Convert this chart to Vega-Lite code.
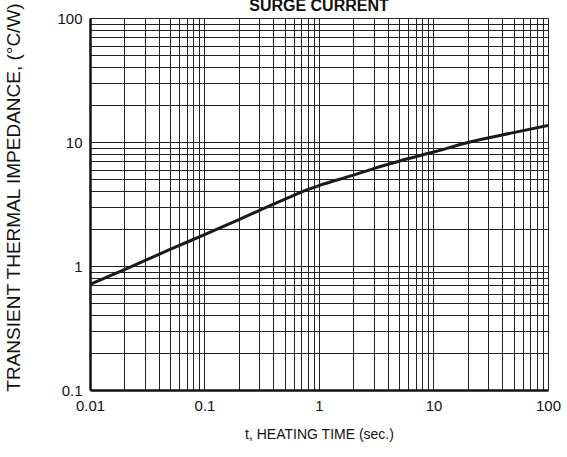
{
  "$schema": "https://vega.github.io/schema/vega-lite/v6.json",
  "autosize": {"type": "none"},
  "padding": {"left": 90, "top": 18, "right": 19, "bottom": 67},
  "width": 458,
  "height": 372,
  "background": "white",
  "config": {
    "font": "Liberation Sans",
    "view": {"stroke": null}
  },
  "title": {
    "text": "SURGE CURRENT",
    "fontSize": 16,
    "fontWeight": "bold",
    "color": "#111",
    "anchor": "middle",
    "baseline": "alphabetic",
    "offset": 0,
    "dy": 25
  },
  "data": {
    "values": [
      {"t": 0.01, "z": 0.71},
      {"t": 0.02, "z": 0.935},
      {"t": 0.05, "z": 1.36},
      {"t": 0.1, "z": 1.79},
      {"t": 0.2, "z": 2.37},
      {"t": 0.3, "z": 2.8},
      {"t": 0.5, "z": 3.45},
      {"t": 0.7, "z": 3.95},
      {"t": 1, "z": 4.45},
      {"t": 2, "z": 5.4},
      {"t": 3, "z": 6.1},
      {"t": 5, "z": 7.0},
      {"t": 10, "z": 8.3},
      {"t": 20, "z": 9.9},
      {"t": 50, "z": 11.9},
      {"t": 100, "z": 13.6}
    ]
  },
  "mark": {"type": "line", "interpolate": "monotone", "color": "#1a1a1a", "strokeWidth": 3, "clip": true},
  "encoding": {
    "x": {
      "field": "t",
      "type": "quantitative",
      "scale": {"type": "log", "domain": [0.01, 100], "nice": false},
      "axis": {
        "title": "t, HEATING TIME (sec.)",
        "titleFontSize": 14,
        "titleFontWeight": "normal",
        "titleColor": "#111",
        "titlePadding": 14,
        "values": [0.01,0.02,0.03,0.04,0.05,0.06,0.07,0.08,0.09,0.1,0.2,0.3,0.4,0.5,0.6,0.7,0.8,0.9,1,2,3,4,5,6,7,8,9,10,20,30,40,50,60,70,80,90,100],
        "labelExpr": "datum.value==0.01?'0.01':datum.value==0.1?'0.1':datum.value==1?'1':datum.value==10?'10':datum.value==100?'100':''",
        "labelFontSize": 15,
        "labelColor": "#111",
        "labelPadding": 8,
        "labelFlush": false,
        "labelOverlap": false,
        "ticks": false,
        "grid": true,
        "gridColor": "#222",
        "gridWidth": 1,
        "gridOpacity": 1,
        "domainColor": "#111",
        "domainWidth": 2.5
      }
    },
    "y": {
      "field": "z",
      "type": "quantitative",
      "scale": {"type": "log", "domain": [0.1, 100], "nice": false},
      "axis": {
        "title": "TRANSIENT THERMAL IMPEDANCE, (°C/W)",
        "titleFontSize": 19,
        "titleFontWeight": "normal",
        "titleColor": "#111",
        "titlePadding": 33,
        "titleY": 179,
        "values": [0.1,0.2,0.3,0.4,0.5,0.6,0.7,0.8,0.9,1,2,3,4,5,6,7,8,9,10,20,30,40,50,60,70,80,90,100],
        "labelExpr": "datum.value==0.1?'0.1':datum.value==1?'1':datum.value==10?'10':datum.value==100?'100':''",
        "labelFontSize": 15,
        "labelColor": "#111",
        "labelPadding": 8,
        "labelFlush": false,
        "labelOverlap": false,
        "ticks": false,
        "grid": true,
        "gridColor": "#222",
        "gridWidth": 1,
        "gridOpacity": 1,
        "domainColor": "#111",
        "domainWidth": 2.5
      }
    }
  }
}
